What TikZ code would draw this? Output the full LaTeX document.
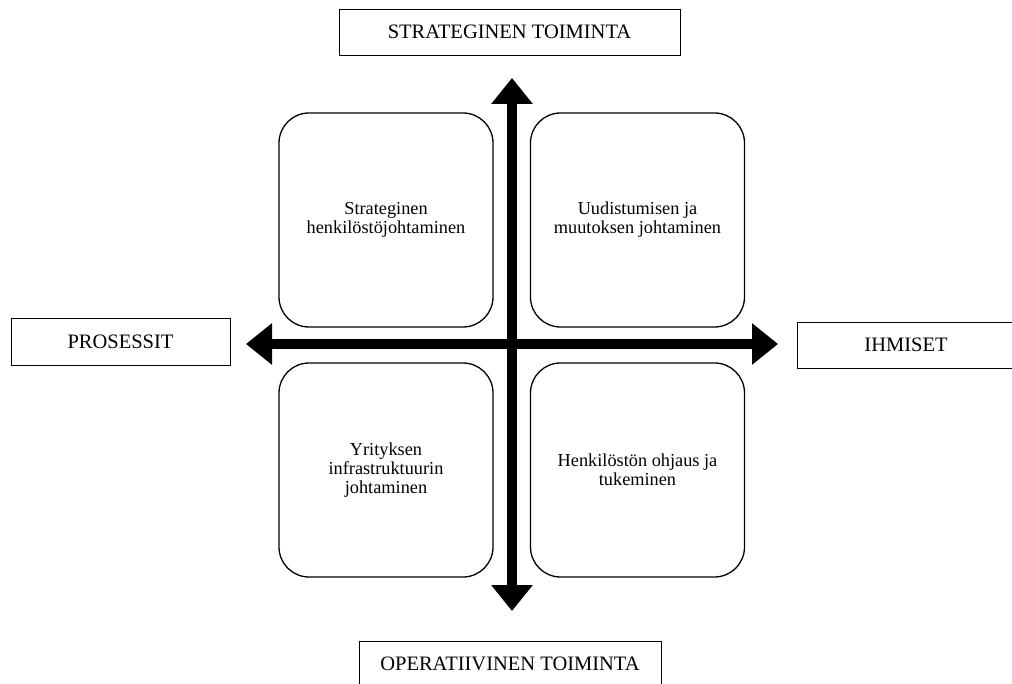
\documentclass[tikz,border=0pt]{standalone}
\usepackage{fontspec}
\setmainfont{Liberation Serif}
\usetikzlibrary{arrows.meta}

\begin{document}
\begin{tikzpicture}[
    x=1pt, y=-1pt,
    label box/.style={draw, line width=0.8pt, minimum height=46pt, inner sep=0pt,
      font=\fontsize{20.5}{24}\selectfont},
    quad/.style={draw, line width=1.3pt, rounded corners=30pt, minimum width=214pt,
      minimum height=214pt, inner sep=0pt, align=center,
      font=\fontsize{18.3}{18.8}\selectfont},
    axis/.style={line width=10pt, {Triangle[width=40pt,length=26pt]}-{Triangle[width=40pt,length=26pt]}}
]
\useasboundingbox (0,0) rectangle (1012,684);

% labels of the axes
\node[label box, minimum width=341pt] (strat) at (509.5,32) {STRATEGINEN TOIMINTA};
\node[label box, minimum width=302pt] (oper) at (510,664) {OPERATIIVINEN TOIMINTA};
\node[label box, minimum width=219pt, minimum height=47pt] (proc) at (120.5,341.5) {PROSESSIT};
\node[label box, minimum width=218pt] (people) at (906,345) {IHMISET};

% the four fields
\foreach \name/\px/\py/\txt in {
    tl/386/220/{Strateginen\\henkilöstöjohtaminen},
    tr/637.5/220/{Uudistumisen ja\\muutoksen johtaminen},
    bl/386/470/{Yrityksen\\infrastruktuurin\\johtaminen},
    br/637.5/470/{Henkilöstön ohjaus ja\\tukeminen}} {
  \node[quad] (\name) at (\px,\py) {\txt};
}

% axes
\coordinate (top) at (512,78);
\coordinate (bottom) at (512,611);
\coordinate (left) at (246,344);
\coordinate (right) at (778,344);
\draw[axis] (bottom) -- (top);
\draw[axis] (left) -- (right);

\end{tikzpicture}
\end{document}
